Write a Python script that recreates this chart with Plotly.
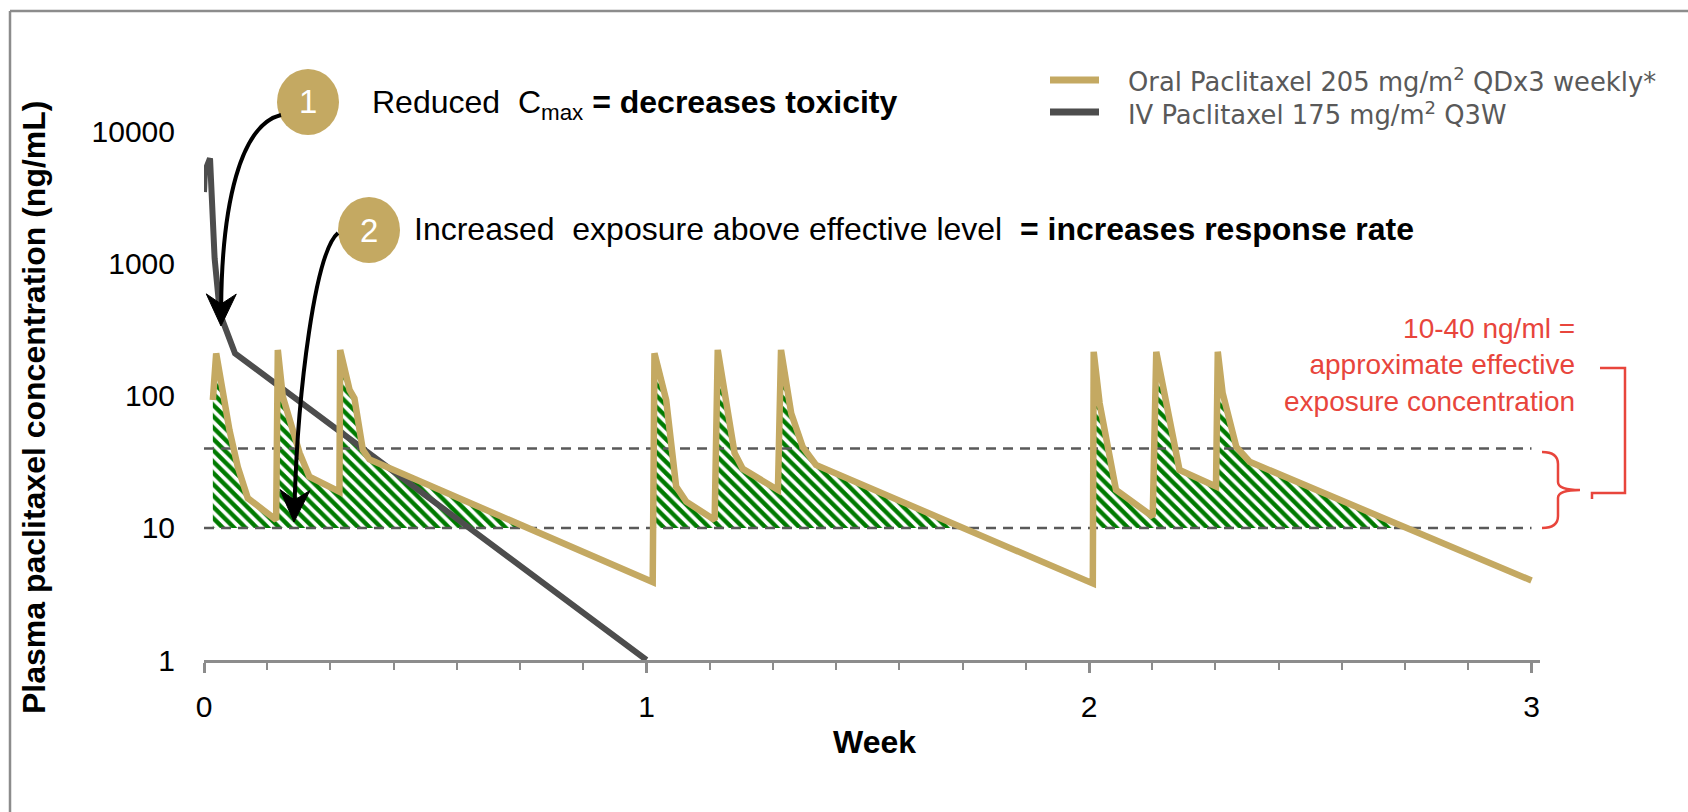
import math
import plotly.graph_objects as go

# ---------------- data ----------------
oral_week = [0.020, 0.0275, 0.0576, 0.0764, 0.099, 0.163, 0.1668, 0.178, 0.216, 0.238, 0.306, 0.3077,
             0.329, 0.340, 0.359, 0.374,
             1.014, 1.018, 1.0445, 1.067, 1.090, 1.154, 1.161, 1.176, 1.199, 1.2176, 1.297, 1.304,
             1.327, 1.353, 1.383,
             2.0086, 2.0106, 2.024, 2.061, 2.144, 2.152, 2.163, 2.2045, 2.287, 2.291, 2.302, 2.333,
             2.363, 3.0]
oral_conc = [93, 210, 55, 29, 16.8, 11.5, 223, 99, 37, 24.5, 18.8, 223,
             111, 96, 39, 33,
             3.9, 210, 93, 20.6, 15.8, 11.5, 223, 105, 37, 28, 19.4, 223,
             74, 41, 30,
             3.8, 216, 88, 19.4, 12.2, 216, 140, 27.5, 20.6, 216, 105, 41,
             31.7, 4.0]

iv_week = [0.0, 0.002, 0.0136, 0.024, 0.036, 0.070, 1.0]
iv_conc = [3500, 5000, 6300, 1100, 420, 210, 1.0]

eff_low = 10
eff_high = 40
eff_span = [0, 3]

x_tickvals = [0, 1, 2, 3]
x_ticktext = ["0", "1", "2", "3"]
y_tickvals = [1, 10, 100, 1000, 10000]
y_ticktext = ["1", "10", "100", "1000", "10000"]

oral_name = "Oral Paclitaxel 205 mg/m<sup>2</sup> QDx3 weekly*"
iv_name = "IV Paclitaxel 175 mg/m<sup>2</sup> Q3W"
note1 = "Reduced\u00a0 C<sub>max</sub><b> = decreases toxicity</b>"
note2 = "Increased\u00a0 exposure above effective level\u00a0 <b>= increases response rate</b>"
red_note = "10-40 ng/ml =<br>approximate effective<br>exposure concentration"

# ---------------- layout geometry ----------------
W_FIG, H_FIG = 1688, 812
L, T = 204, 79
W, H = 1336, 581
PX_PER_WEEK = 442.5
Y_DECADES = 4.4

TAN = "#C4A962"
GRAY = "#4D4D4D"
RED = "#E8453C"
FONT = "Liberation Sans, Arial, sans-serif"
LEGEND_FONT = "DejaVu Sans, Liberation Sans, sans-serif"


def xp(p):
    return (p - L) / W


def yp(p):
    return (T + H - p) / H


def clip_polys(xs, ys, thr):
    polys, cur = [], None
    lt = math.log10(thr)
    for i in range(len(xs)):
        x, y = xs[i], ys[i]
        above = y >= thr
        if i > 0:
            x0, y0 = xs[i - 1], ys[i - 1]
            above0 = y0 >= thr
            if above0 != above:
                t = (lt - math.log10(y0)) / (math.log10(y) - math.log10(y0))
                xc = x0 + t * (x - x0)
                if above:
                    cur = [(xc, thr)]
                else:
                    cur.append((xc, thr))
                    polys.append(cur)
                    cur = None
        if above:
            if cur is None:
                cur = [(x, thr)]
            cur.append((x, y))
    if cur:
        cur.append((cur[-1][0], thr))
        polys.append(cur)
    return polys


fig = go.Figure()

# hatched exposure area between the effective level and the oral curve
for poly in clip_polys(oral_week, oral_conc, eff_low):
    fig.add_trace(go.Scatter(
        x=[p[0] for p in poly], y=[p[1] for p in poly],
        mode="none", fill="toself", fillcolor="white",
        fillpattern=dict(shape="\\", fgcolor="#007A00", bgcolor="white", size=8,
                         solidity=0.55, fgopacity=1),
        hoverinfo="skip", showlegend=False))

for lvl in (eff_low, eff_high):
    fig.add_trace(go.Scatter(x=eff_span, y=[lvl, lvl], mode="lines",
                             line=dict(color="#595959", width=2.5, dash="10px,7px"),
                             hoverinfo="skip", showlegend=False))

fig.add_trace(go.Scatter(x=iv_week, y=iv_conc, mode="lines", name=iv_name,
                         line=dict(color=GRAY, width=6), showlegend=False))
fig.add_trace(go.Scatter(x=oral_week, y=oral_conc, mode="lines", name=oral_name,
                         line=dict(color=TAN, width=6.5), showlegend=False))

shapes = []
annotations = []

# frame (top + left edges)
shapes.append(dict(type="line", xref="paper", yref="paper", x0=xp(10), x1=xp(W_FIG + 5),
                   y0=yp(11), y1=yp(11), line=dict(color="#8C8C8C", width=2.5)))
shapes.append(dict(type="line", xref="paper", yref="paper", x0=xp(10), x1=xp(10),
                   y0=yp(11), y1=yp(H_FIG + 5), line=dict(color="#8C8C8C", width=2.5)))

# legend (custom): swatches + one two-line text block
legend_rows = [(80, TAN), (112, GRAY)]
for row_y, col in legend_rows:
    shapes.append(dict(type="line", xref="paper", yref="paper", x0=xp(1050), x1=xp(1099),
                       y0=yp(row_y), y1=yp(row_y), line=dict(color=col, width=7)))
annotations.append(dict(xref="paper", yref="paper", x=xp(1126), y=yp(96),
                        text=oral_name + "<br>" + iv_name,
                        xanchor="left", yanchor="middle", align="left", showarrow=False,
                        font=dict(family=LEGEND_FONT, size=25.8, color="#595959")))

# numbered circles
for cx, cy, num in ((308, 102, "1"), (369, 230, "2")):
    shapes.append(dict(type="circle", xref="paper", yref="paper",
                       x0=xp(cx - 31), x1=xp(cx + 31), y0=yp(cy + 33), y1=yp(cy - 33),
                       fillcolor=TAN, line=dict(width=0)))
    annotations.append(dict(xref="paper", yref="paper", x=xp(cx), y=yp(cy), text=num,
                            showarrow=False, xanchor="center", yanchor="middle",
                            font=dict(family=FONT, size=33, color="white")))

annotations.append(dict(xref="paper", yref="paper", x=xp(370), y=yp(104), text=note1,
                        xanchor="left", yanchor="middle", showarrow=False,
                        font=dict(family=FONT, size=32, color="black")))
annotations.append(dict(xref="paper", yref="paper", x=xp(412), y=yp(229), text=note2,
                        xanchor="left", yanchor="middle", showarrow=False,
                        font=dict(family=FONT, size=32, color="black")))


def curved_arrow(p0, c1, c2, tip):
    dx, dy = tip[0] - c2[0], tip[1] - c2[1]
    n = math.hypot(dx, dy)
    dx, dy = dx / n, dy / n
    nx, ny = -dy, dx
    end = (tip[0] - 20 * dx, tip[1] - 20 * dy)
    path = "M {:.5f},{:.5f} C {:.5f},{:.5f} {:.5f},{:.5f} {:.5f},{:.5f}".format(
        xp(p0[0]), yp(p0[1]), xp(c1[0]), yp(c1[1]), xp(c2[0]), yp(c2[1]), xp(end[0]), yp(end[1]))
    shapes.append(dict(type="path", xref="paper", yref="paper", path=path,
                       line=dict(color="black", width=4)))
    pts = [tip,
           (tip[0] - 32 * dx + 15 * nx, tip[1] - 32 * dy + 15 * ny),
           (tip[0] - 22 * dx, tip[1] - 22 * dy),
           (tip[0] - 32 * dx - 15 * nx, tip[1] - 32 * dy - 15 * ny)]
    head = "M " + " L ".join("{:.5f},{:.5f}".format(xp(a), yp(b)) for a, b in pts) + " Z"
    shapes.append(dict(type="path", xref="paper", yref="paper", path=head,
                       fillcolor="black", line=dict(color="black", width=1)))


curved_arrow((281, 115), (240, 125), (222, 205), (221, 326))
curved_arrow((338, 233), (315, 252), (298, 390), (294, 522))

# red brace and bracket
brace = [(1542, 452), (1558, 452), (1558, 464), (1558, 482), (1558, 490), (1580, 490),
         (1558, 490), (1558, 498), (1558, 516), (1558, 528), (1542, 528)]
b = [(xp(a), yp(c)) for a, c in brace]
brace_path = ("M {0[0]:.5f},{0[1]:.5f} Q {1[0]:.5f},{1[1]:.5f} {2[0]:.5f},{2[1]:.5f} "
              "L {3[0]:.5f},{3[1]:.5f} Q {4[0]:.5f},{4[1]:.5f} {5[0]:.5f},{5[1]:.5f} "
              "Q {6[0]:.5f},{6[1]:.5f} {7[0]:.5f},{7[1]:.5f} L {8[0]:.5f},{8[1]:.5f} "
              "Q {9[0]:.5f},{9[1]:.5f} {10[0]:.5f},{10[1]:.5f}").format(*b)
shapes.append(dict(type="path", xref="paper", yref="paper", path=brace_path,
                   line=dict(color=RED, width=2.5)))
bracket = [(1600, 368), (1625, 368), (1625, 493), (1592, 493), (1592, 499)]
bracket_path = "M " + " L ".join("{:.5f},{:.5f}".format(xp(a), yp(c)) for a, c in bracket)
shapes.append(dict(type="path", xref="paper", yref="paper", path=bracket_path,
                   line=dict(color=RED, width=2.5)))

annotations.append(dict(xref="paper", yref="paper", x=xp(1577), y=yp(365), text=red_note,
                        xanchor="right", yanchor="middle", align="right", showarrow=False,
                        font=dict(family=FONT, size=28, color=RED)))

# axis titles
annotations.append(dict(xref="paper", yref="paper", x=xp(34), y=yp(408),
                        text="<b>Plasma paclitaxel concentration (ng/mL)</b>", textangle=-90,
                        xanchor="center", yanchor="middle", showarrow=False,
                        font=dict(family=FONT, size=32, color="black")))
annotations.append(dict(xref="paper", yref="paper", x=xp(874), y=yp(742), text="<b>Week</b>",
                        xanchor="center", yanchor="middle", showarrow=False,
                        font=dict(family=FONT, size=32, color="black")))

minor_vals = [d / 7 for d in range(22) if d % 7 != 0]

fig.update_layout(
    width=W_FIG, height=H_FIG,
    margin=dict(l=L, r=W_FIG - L - W, t=T, b=H_FIG - T - H, pad=0),
    paper_bgcolor="white", plot_bgcolor="white",
    showlegend=False,
    shapes=shapes, annotations=annotations,
    xaxis=dict(range=[0, W / PX_PER_WEEK], tickmode="array", tickvals=x_tickvals,
               ticktext=x_ticktext, showgrid=False, zeroline=False, showline=True,
               linecolor="#8C8C8C", linewidth=3, ticks="outside", ticklen=10, tickwidth=2.5,
               tickcolor="#8C8C8C", ticklabelstandoff=8,
               minor=dict(tickmode="array", tickvals=minor_vals, ticks="outside", ticklen=7,
                          tickwidth=2, tickcolor="#8C8C8C", showgrid=False),
               tickfont=dict(family=FONT, size=30, color="black")),
    yaxis=dict(type="log", range=[0, Y_DECADES], tickmode="array", tickvals=y_tickvals,
               ticktext=y_ticktext, showgrid=False, zeroline=False, showline=False, ticks="",
               ticklabelstandoff=28, tickfont=dict(family=FONT, size=30, color="black")),
)

fig.write_html("out.html")
